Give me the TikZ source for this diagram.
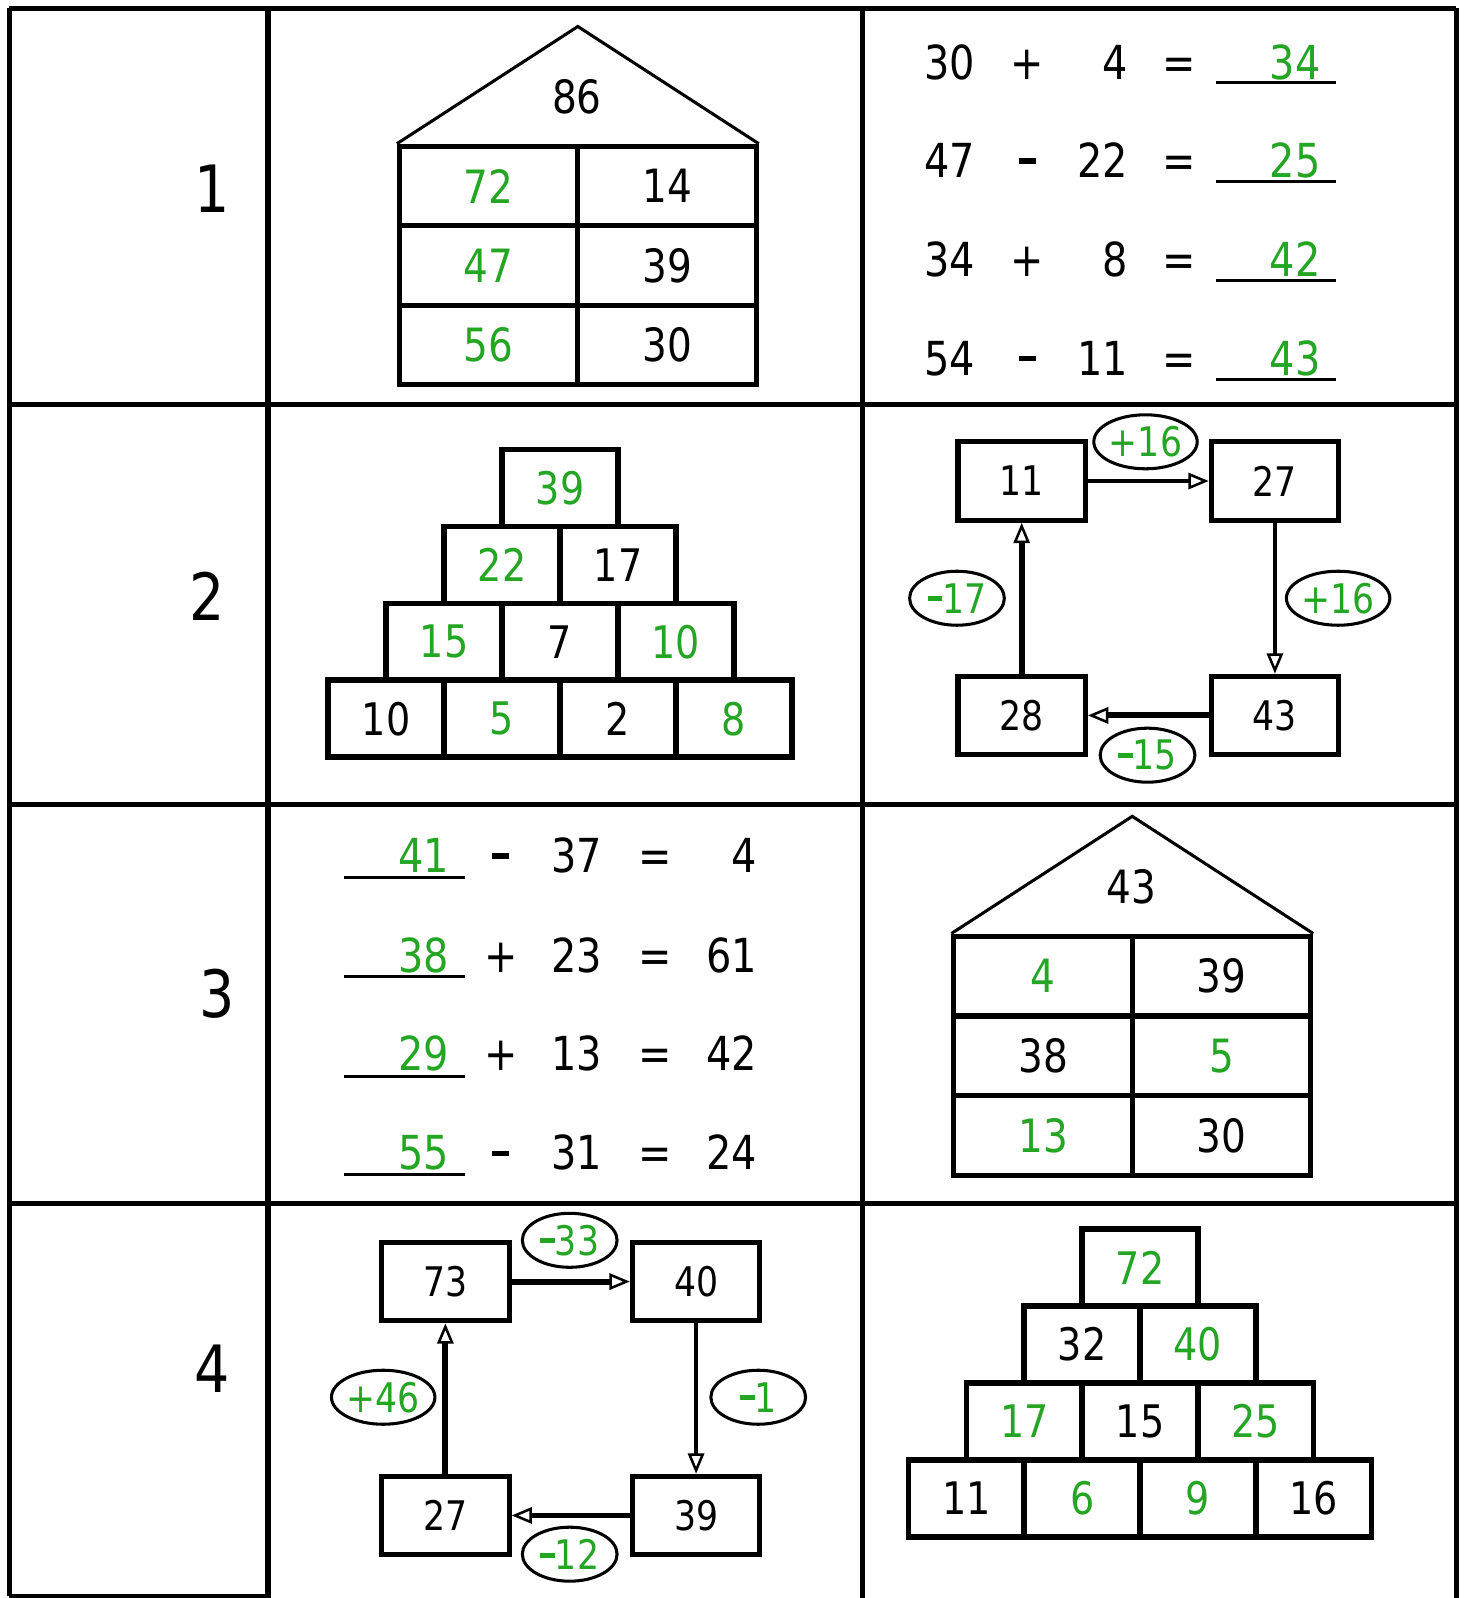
\documentclass[tikz,border=0pt]{standalone}
\usepackage{fontspec}
\setmainfont{DejaVu Sans}[FakeStretch=0.85]
\usetikzlibrary{arrows.meta,shapes.geometric}
\definecolor{ans}{RGB}{36,165,36}
\newcommand{\fsz}[1]{\fontsize{#1pt}{#1pt}\selectfont}
\newcommand{\grn}[1]{\textcolor{ans}{#1}}
\newcommand{\mns}{\raisebox{0.29em}{\rule{0.36em}{0.12em}}}
\tikzset{
  gridline/.style={line width=5pt},
  rowlabel/.style={font=\fsz{64}, inner sep=0pt},
  hcell/.style={draw, line width=5pt, minimum width=175pt, minimum height=78pt, inner sep=0pt, font=\fsz{45}},
  roof/.style={line width=3pt, line join=miter},
  roofnum/.style={font=\fsz{45}, inner sep=0pt},
  pcell/.style={draw, line width=5.5pt, minimum width=113.75pt, minimum height=75.5pt, inner sep=0pt, font=\fsz{44}},
  cbox/.style={draw, line width=5pt, minimum width=125pt, minimum height=77pt, inner sep=0pt, font=\fsz{40}},
  oval/.style={ellipse, draw, line width=3pt, fill=white, minimum width=93pt, minimum height=53pt, inner sep=0pt, font=\fsz{40}, text=ans},
  eqtok/.style={anchor=base, inner sep=0pt, font=\fsz{46}},
  eqres/.style={anchor=base east, inner sep=0pt, font=\fsz{46}},
  blank/.style={line width=3pt},
  arrthin/.style={line width=3.4pt, -{Triangle[open, length=20pt, width=16pt, line width=2.5pt]}},
  arrmid/.style={line width=4.3pt, -{Triangle[open, length=20pt, width=16pt, line width=2.5pt]}},
  arrthick/.style={line width=6pt, -{Triangle[open, length=20pt, width=16pt, line width=2.5pt]}},
}
\begin{document}
\begin{tikzpicture}[x=1pt, y=-1pt]
\useasboundingbox (0,0) rectangle (1437,1568);
\fill[white] (0,0) rectangle (1437,1568);

% ---------- table grid ----------
\draw[gridline] (9,8) -- (1429,8);
\draw[gridline] (9,8) -- (9,1566);
\draw[gridline] (1429,8) -- (1429,1568);
\draw[gridline] (263,8) -- (263,1568);
\draw[gridline] (846,8) -- (846,1568);
\draw[gridline] (9,397) -- (1429,397);
\draw[gridline] (9,789) -- (1429,789);
\draw[gridline] (9,1181) -- (1429,1181);
\draw[line width=3pt] (9,1566) -- (263,1566);

% ---------- row labels ----------
\node[rowlabel] (l1) at (208,185) {1};
\node[rowlabel] (l2) at (203,585) {2};
\node[rowlabel] (l3) at (213,975) {3};
\node[rowlabel] (l4) at (208,1343) {4};

% ---------- row 1: house ----------
\node[hcell] (h1a) at (479.5,182.5) {\grn{72}};
\node[hcell] (h1b) at (654.5,182.5) {14};
\node[hcell] (h1c) at (479.5,260.5) {\grn{47}};
\node[hcell] (h1d) at (654.5,260.5) {39};
\node[hcell] (h1e) at (479.5,338.5) {\grn{56}};
\node[hcell] (h1f) at (654.5,338.5) {30};
\coordinate (h1apex) at (567,26);
\draw[roof] (h1a.north west) -- (h1apex) -- (h1b.north east);
\node[roofnum] (h1top) at (566,95) {86};

% ---------- row 1: equations ----------
\node[eqtok] (a1) at (932,78) {30};
\node[eqtok] (a1o) at (1008,78) {+};
\node[eqres] (a1b) at (1107,78) {4};
\node[eqtok] (a1e) at (1157,78) {=};
\node[eqtok] (a1r) at (1271,78) {\grn{34}};
\draw[blank] (1193,81) -- (1311,81);

\node[eqtok] (a2) at (932,174) {47};
\node[eqtok] (a2o) at (1008,174) {\mns};
\node[eqres] (a2b) at (1107,174) {22};
\node[eqtok] (a2e) at (1157,174) {=};
\node[eqtok] (a2r) at (1271,174) {\grn{25}};
\draw[blank] (1193,178) -- (1311,178);

\node[eqtok] (a3) at (932,271) {34};
\node[eqtok] (a3o) at (1008,271) {+};
\node[eqres] (a3b) at (1107,271) {8};
\node[eqtok] (a3e) at (1157,271) {=};
\node[eqtok] (a3r) at (1271,271) {\grn{42}};
\draw[blank] (1193,275) -- (1311,275);

\node[eqtok] (a4) at (932,368) {54};
\node[eqtok] (a4o) at (1008,368) {\mns};
\node[eqres] (a4b) at (1107,368) {11};
\node[eqtok] (a4e) at (1157,368) {=};
\node[eqtok] (a4r) at (1271,368) {\grn{43}};
\draw[blank] (1193,372) -- (1311,372);

% ---------- row 2: pyramid ----------
\node[pcell] (p1a) at (549.5,478.75) {\grn{39}};
\node[pcell] (p1b) at (492.6,554.25) {\grn{22}};
\node[pcell] (p1c) at (606.4,554.25) {17};
\node[pcell] (p1d) at (435.7,629.75) {\grn{15}};
\node[pcell] (p1e) at (549.5,629.75) {7};
\node[pcell] (p1f) at (663.3,629.75) {\grn{10}};
\node[pcell] (p1g) at (378.9,705.25) {10};
\node[pcell] (p1h) at (492.6,705.25) {\grn{5}};
\node[pcell] (p1i) at (606.4,705.25) {2};
\node[pcell] (p1j) at (720.1,705.25) {\grn{8}};

% ---------- row 2: cycle ----------
\node[cbox] (c11) at (1002.5,472) {11};
\node[cbox] (c27) at (1251,472) {27};
\node[cbox] (c28) at (1002.5,702) {28};
\node[cbox] (c43) at (1251,702) {43};
\draw[arrthin] (c11) -- (c27);
\draw[arrthin] (c27) -- (c43);
\draw[arrthick] (c43) -- (c28);
\draw[arrthick] (c28) -- (c11);
\node[oval] (o1) at (1124,433.5) {+16};
\node[oval] (o2) at (1313,587) {+16};
\node[oval] (o3) at (939,587) {\mns17};
\node[oval] (o4) at (1126,741) {\mns15};

% ---------- row 3: equations ----------
\node[eqtok] (b1) at (416,856) {\grn{41}};
\node[eqtok] (b1o) at (491.5,856) {\mns};
\node[eqtok] (b1b) at (566,856) {37};
\node[eqtok] (b1e) at (643,856) {=};
\node[eqres] (b1r) at (743,856) {4};
\draw[blank] (338,861) -- (456,861);

\node[eqtok] (b2) at (416,954) {\grn{38}};
\node[eqtok] (b2o) at (491.5,954) {+};
\node[eqtok] (b2b) at (566,954) {23};
\node[eqtok] (b2e) at (643,954) {=};
\node[eqres] (b2r) at (743,954) {61};
\draw[blank] (338,958) -- (456,958);

\node[eqtok] (b3) at (416,1050) {\grn{29}};
\node[eqtok] (b3o) at (491.5,1050) {+};
\node[eqtok] (b3b) at (566,1050) {13};
\node[eqtok] (b3e) at (643,1050) {=};
\node[eqres] (b3r) at (743,1050) {42};
\draw[blank] (338,1056) -- (456,1056);

\node[eqtok] (b4) at (416,1148) {\grn{55}};
\node[eqtok] (b4o) at (491.5,1148) {\mns};
\node[eqtok] (b4b) at (566,1148) {31};
\node[eqtok] (b4e) at (643,1148) {=};
\node[eqres] (b4r) at (743,1148) {24};
\draw[blank] (338,1152) -- (456,1152);

% ---------- row 3: house ----------
\node[hcell] (h2a) at (1023.5,957.5) {\grn{4}};
\node[hcell] (h2b) at (1198.5,957.5) {39};
\node[hcell] (h2c) at (1023.5,1036) {38};
\node[hcell] (h2d) at (1198.5,1036) {\grn{5}};
\node[hcell] (h2e) at (1023.5,1114) {\grn{13}};
\node[hcell] (h2f) at (1198.5,1114) {30};
\coordinate (h2apex) at (1111,801);
\draw[roof] (h2a.north west) -- (h2apex) -- (h2b.north east);
\node[roofnum] (h2top) at (1110,870) {43};

% ---------- row 4: cycle ----------
\node[cbox] (d73) at (437,1257.5) {73};
\node[cbox] (d40) at (683,1257.5) {40};
\node[cbox] (d27) at (437,1487) {27};
\node[cbox] (d39) at (683,1487) {39};
\draw[arrthick] (d73) -- (d40);
\draw[arrmid] (d40) -- (d39);
\draw[arrmid] (d39) -- (d27);
\draw[arrthick] (d27) -- (d73);
\node[oval] (q1) at (559,1217) {\mns33};
\node[oval] (q2) at (744,1371) {\mns1};
\node[oval] (q3) at (376,1371) {+46};
\node[oval] (q4) at (559,1525) {\mns12};

% ---------- row 4: pyramid ----------
\node[pcell] (p2a) at (1118.6,1243.75) {\grn{72}};
\node[pcell] (p2b) at (1061.85,1319.25) {32};
\node[pcell] (p2c) at (1175.35,1319.25) {\grn{40}};
\node[pcell] (p2d) at (1005.1,1394.75) {\grn{17}};
\node[pcell] (p2e) at (1118.6,1394.75) {15};
\node[pcell] (p2f) at (1232.1,1394.75) {\grn{25}};
\node[pcell] (p2g) at (948.35,1470.25) {11};
\node[pcell] (p2h) at (1061.85,1470.25) {\grn{6}};
\node[pcell] (p2i) at (1175.35,1470.25) {\grn{9}};
\node[pcell] (p2j) at (1288.85,1470.25) {16};
\end{tikzpicture}
\end{document}
